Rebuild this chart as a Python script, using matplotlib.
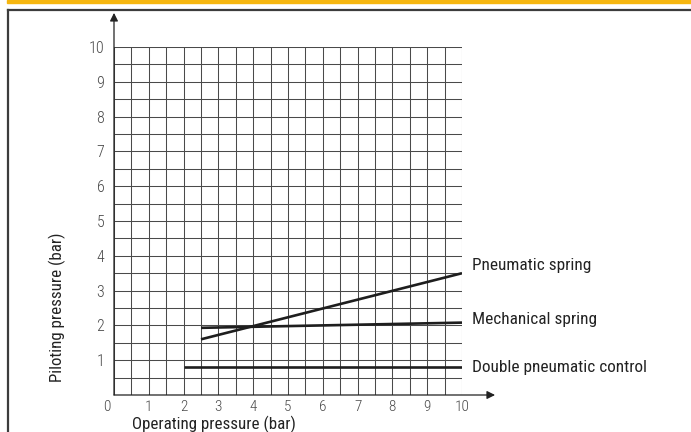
import matplotlib
matplotlib.use('Agg')
import matplotlib.pyplot as plt
from matplotlib.lines import Line2D
from matplotlib.patches import Rectangle

plt.rcParams['font.family'] = ['Roboto Condensed', 'Liberation Sans', 'DejaVu Sans']

# Данные кривых (рабочее давление -> давление управления)
pneumatic_x = [2.5, 10]
pneumatic_y = [1.6, 3.5]
mechanical_x = [2.5, 10]
mechanical_y = [1.93, 2.08]
double_x = [2, 10]
double_y = [0.8, 0.8]

line_labels = ['Pneumatic spring', 'Mechanical spring', 'Double pneumatic control']
x_ticks = list(range(1, 11))
y_ticks = list(range(1, 11))

W, H = 691, 432
fig = plt.figure(figsize=(W / 100, H / 100), dpi=100)

# Рамка и жёлтая полоса сверху
fig.patches.append(Rectangle((7 / W, 1 - 2.5 / H), 1, 2.5 / H, transform=fig.transFigure,
                             color='#f6b60f', zorder=0))
fig.lines.append(Line2D([7.5 / W, 1], [1 - 10 / H, 1 - 10 / H], transform=fig.transFigure,
                        color='#3c3c3c', lw=1.6))
fig.lines.append(Line2D([7.5 / W, 7.5 / W], [0, 1 - 10 / H], transform=fig.transFigure,
                        color='#3c3c3c', lw=1.6))

ax = fig.add_axes([114 / W, 37 / H, 348 / W, 348 / H])
ax.set_xlim(0, 10)
ax.set_ylim(0, 10)
for s in ax.spines.values():
    s.set_visible(False)

# Сетка с шагом 0.5
ax.set_xticks([i * 0.5 for i in range(21)], minor=True)
ax.set_yticks([i * 0.5 for i in range(21)], minor=True)
ax.set_xticks(x_ticks)
ax.set_yticks(y_ticks)
ax.grid(True, which='both', color='#4a4a4a', lw=0.75)
ax.tick_params(which='both', length=0)
ax.tick_params(axis='x', pad=3.5, labelsize=11, labelcolor='#4a4a4a')
ax.tick_params(axis='y', pad=7, labelsize=11.5, labelcolor='#4a4a4a')
for lab in ax.get_xticklabels() + ax.get_yticklabels():
    lab.set_fontweight('light')
ax.text(-0.2, -0.14, '0', ha='center', va='top', fontsize=11, color='#4a4a4a',
        fontweight='light')

# Оси со стрелками
ax.annotate('', xy=(0, 10.98), xytext=(0, 0), annotation_clip=False,
            arrowprops=dict(arrowstyle='-|>', color='#222222', lw=0.9,
                            mutation_scale=12, shrinkA=0, shrinkB=0))
ax.annotate('', xy=(10.95, 0), xytext=(0, 0), annotation_clip=False,
            arrowprops=dict(arrowstyle='-|>', color='#222222', lw=0.9,
                            mutation_scale=12, shrinkA=0, shrinkB=0))

# Кривые
for xs, ys in [(pneumatic_x, pneumatic_y), (mechanical_x, mechanical_y), (double_x, double_y)]:
    ax.plot(xs, ys, color='#1e1e1e', lw=1.9, solid_capstyle='butt', zorder=5)

# Подписи кривых
label_y = [3.71, 2.16, 0.78]
for txt, yy in zip(line_labels, label_y):
    ax.text(10.28, yy, txt, ha='left', va='center', fontsize=12.4, color='#222222',
            clip_on=False)

ax.text(2.87, -0.98, 'Operating pressure (bar)', ha='center', va='baseline',
        fontsize=12.2, color='#222222', clip_on=False)
ax.text(-1.64, 2.53, 'Piloting pressure (bar)', ha='center', va='center',
        rotation=90, fontsize=12.2, color='#222222', clip_on=False)

fig.savefig('out.png', dpi=100)
